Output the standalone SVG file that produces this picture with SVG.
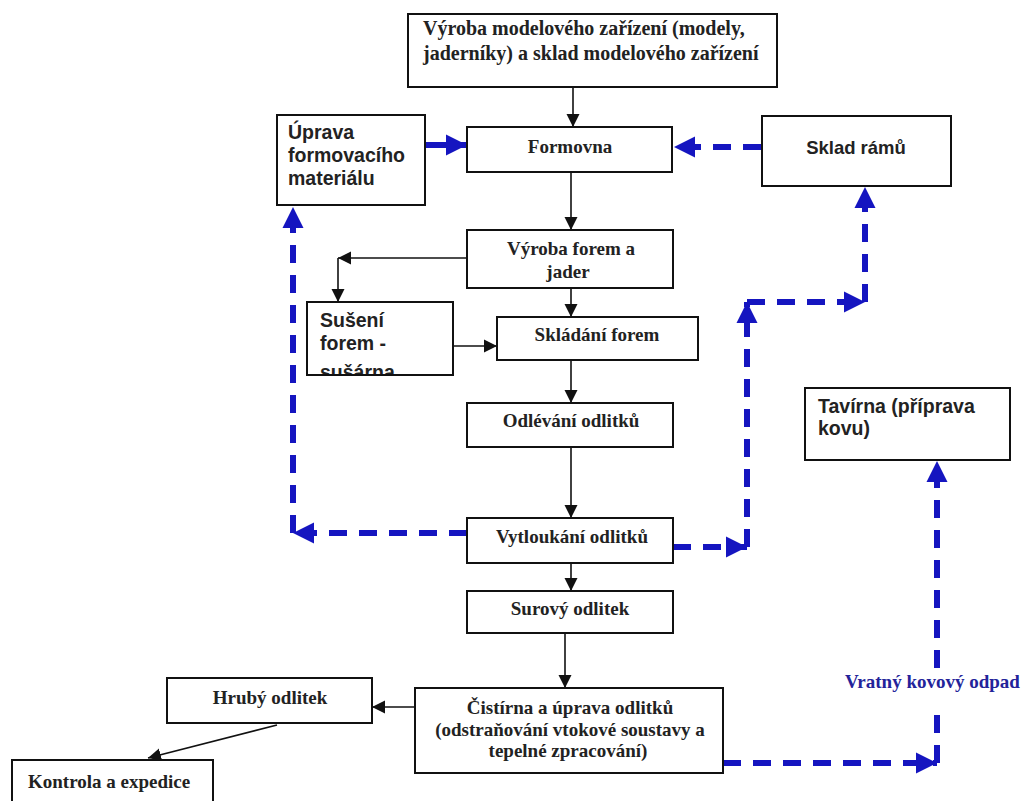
<svg xmlns="http://www.w3.org/2000/svg" width="1024" height="801" viewBox="0 0 1024 801">
<style>
.box{fill:#fff;stroke:#111;stroke-width:2}
.t{font-family:"Liberation Serif","Times New Roman",serif;font-weight:bold;font-size:19px;fill:#222}
.t20{font-size:20px}
.s{font-family:"Liberation Sans",Arial,sans-serif;font-weight:bold;font-size:18.5px;fill:#222}
.s19{font-size:19.5px}
.c{text-anchor:middle}
.k{stroke:#111;stroke-width:1.6;fill:none}
.b{stroke:#1515c0;stroke-width:6;fill:none;stroke-dasharray:18 12}
.bs{stroke:#1515c0;stroke-width:6;fill:none}
.lbl{font-family:"Liberation Serif","Times New Roman",serif;font-weight:bold;font-size:19px;fill:#23239a}
</style>
<defs>
<marker id="ak" viewBox="0 0 10 10" refX="10" refY="5" markerUnits="userSpaceOnUse" markerWidth="13" markerHeight="14" orient="auto"><path d="M0,0 L10,5 L0,10 z" fill="#111"/></marker>
<marker id="ab" viewBox="0 0 10 10" refX="10" refY="5" markerUnits="userSpaceOnUse" markerWidth="21" markerHeight="24" orient="auto"><path d="M0,0 L10,5 L0,10 z" fill="#1515c0"/></marker>
<clipPath id="clipSus"><rect x="307" y="302" width="146" height="72"/></clipPath>
</defs>
<rect width="1024" height="801" fill="#fff"/>

<g id="connectors">
<line class="k" x1="573" y1="87" x2="573" y2="127" marker-end="url(#ak)"/>
<line class="k" x1="571" y1="172" x2="571" y2="230" marker-end="url(#ak)"/>
<line class="k" x1="467" y1="258" x2="338" y2="258" marker-end="url(#ak)"/>
<line class="k" x1="338" y1="258" x2="338" y2="302" marker-end="url(#ak)"/>
<line class="k" x1="571" y1="288" x2="571" y2="317" marker-end="url(#ak)"/>
<line class="k" x1="453" y1="346" x2="497" y2="346" marker-end="url(#ak)"/>
<line class="k" x1="571" y1="360" x2="571" y2="403" marker-end="url(#ak)"/>
<line class="k" x1="571" y1="447" x2="571" y2="518" marker-end="url(#ak)"/>
<line class="k" x1="571" y1="563" x2="571" y2="591" marker-end="url(#ak)"/>
<line class="k" x1="565" y1="633" x2="565" y2="688" marker-end="url(#ak)"/>
<line class="k" x1="415" y1="707" x2="372" y2="707" marker-end="url(#ak)"/>
<line class="k" x1="277" y1="725" x2="148" y2="758" marker-end="url(#ak)"/>

<line class="bs" x1="426" y1="145" x2="467" y2="145" marker-end="url(#ab)"/>
<line class="b" x1="761" y1="147" x2="674" y2="147" marker-end="url(#ab)"/>
<line class="b" x1="467" y1="533" x2="293" y2="533" marker-end="url(#ab)"/>
<line class="b" x1="293" y1="533" x2="293" y2="207" marker-end="url(#ab)"/>
<line class="b" x1="673" y1="547" x2="747" y2="547" marker-end="url(#ab)"/>
<line class="b" x1="747" y1="547" x2="747" y2="302" marker-end="url(#ab)"/>
<line class="b" x1="747" y1="302" x2="865" y2="302" marker-end="url(#ab)"/>
<line class="b" x1="865" y1="302" x2="865" y2="187" marker-end="url(#ab)"/>
<line class="b" x1="723" y1="763" x2="937" y2="763" marker-end="url(#ab)"/>
<line class="b" x1="937" y1="763" x2="937" y2="707"/>
<line class="b" x1="937" y1="668" x2="937" y2="461" marker-end="url(#ab)"/>
<text class="lbl" x="845" y="688">Vratný kovový odpad</text>
</g>

<g id="n_model">
<rect class="box" x="408" y="14" width="369" height="73"/>
<text class="t t20" x="423" y="35">Výroba modelového zařízení (modely,</text>
<text class="t t20" x="423" y="60">jaderníky) a sklad modelového zařízení</text>
</g>
<g id="n_uprava">
<rect class="box" x="277" y="115" width="148" height="90"/>
<text class="s s19" x="288" y="139">Úprava</text>
<text class="s s19" x="288" y="162">formovacího</text>
<text class="s s19" x="288" y="185">materiálu</text>
</g>
<g id="n_formovna">
<rect class="box" x="467" y="127" width="205" height="45"/>
<text class="t c" x="570" y="153">Formovna</text>
</g>
<g id="n_sklad">
<rect class="box" x="762" y="116" width="189" height="70"/>
<text class="s c" x="856" y="154">Sklad rámů</text>
</g>
<g id="n_vyroba">
<rect class="box" x="467" y="230" width="206" height="58"/>
<text class="t c" x="571" y="255">Výroba forem  a</text>
<text class="t c" x="568" y="278">jader</text>
</g>
<g id="n_suseni">
<rect class="box" x="307" y="302" width="146" height="73"/>
<g clip-path="url(#clipSus)">
<text class="s s19" x="320" y="327">Sušení</text>
<text class="s s19" x="320" y="350">forem -</text>
<text class="s s19" x="320" y="379">sušárna</text>
</g>
</g>
<g id="n_skladani">
<rect class="box" x="497" y="317" width="201" height="43"/>
<text class="t c" x="597" y="341">Skládání forem</text>
</g>
<g id="n_odlevani">
<rect class="box" x="467" y="403" width="206" height="44"/>
<text class="t c" x="571" y="427">Odlévání odlitků</text>
</g>
<g id="n_vytloukani">
<rect class="box" x="467" y="518" width="206" height="45"/>
<text class="t c" x="572" y="543">Vytloukání odlitků</text>
</g>
<g id="n_surovy">
<rect class="box" x="467" y="591" width="206" height="42"/>
<text class="t c" x="570" y="615">Surový odlitek</text>
</g>
<g id="n_cistirna">
<rect class="box" x="415" y="688" width="308" height="85"/>
<text class="t c" x="570" y="714">Čistírna a úprava odlitků</text>
<text class="t c" x="570" y="736">(odstraňování vtokové soustavy a</text>
<text class="t c" x="568" y="757">tepelné zpracování)</text>
</g>
<g id="n_hruby">
<rect class="box" x="167" y="678" width="205" height="45"/>
<text class="t c" x="270" y="704">Hrubý odlitek</text>
</g>
<g id="n_kontrola">
<rect class="box" x="12" y="760" width="201" height="50"/>
<text class="t" x="28" y="788">Kontrola a expedice</text>
</g>
<g id="n_tavirna">
<rect class="box" x="805" y="388" width="205" height="72"/>
<text class="s s19" x="818" y="413">Tavírna (příprava</text>
<text class="s s19" x="818" y="435">kovu)</text>
</g>
</svg>
